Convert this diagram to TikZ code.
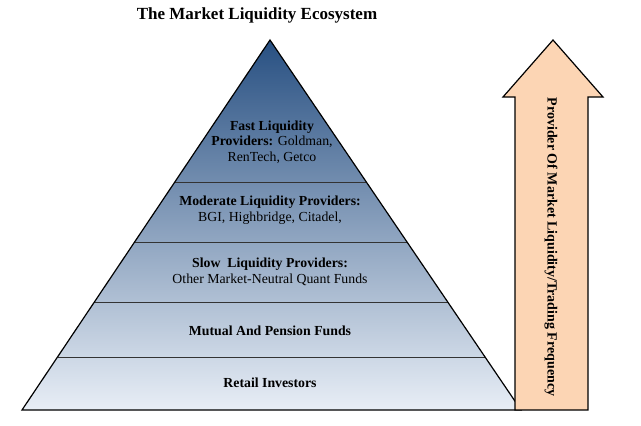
\documentclass[tikz,border=0pt]{standalone}
\usepackage{fontspec}
\setmainfont{Liberation Serif}
\begin{document}
\begin{tikzpicture}[x=1pt,y=-1pt,
  lbl/.style={font=\fontsize{13.8}{15.5}\selectfont, align=center, text=black}]
\useasboundingbox[fill=white] (0,0) rectangle (641,426);
\coordinate (apex) at (270,40);
\coordinate (bl) at (22,410);
\coordinate (br) at (521,410);
\shade[top color={rgb,255:red,40;green,80;blue,130}, middle color={rgb,255:red,100;green,150;blue,205}, bottom color={rgb,255:red,232;green,238;blue,246}] (apex) -- (br) -- (bl) -- cycle;
\foreach \y in {182,242,302,357}{
  \pgfmathsetmacro{\dx}{(\y-40)/370}
  \draw[line width=0.8pt, black!80] ({270-248*\dx},\y) -- ({270+251*\dx},\y);
}
\draw[line width=1.2pt] (apex) -- (br) -- (bl) -- cycle;
\node[lbl, font=\fontsize{17}{19}\selectfont] (t) at (257,15) {\textbf{The Market Liquidity Ecosystem}};
\node[lbl] (n1) at (272,142) {\textbf{Fast Liquidity}\\\textbf{Providers:} Goldman,\\RenTech, Getco};
\node[lbl] (n2) at (270,210) {\textbf{Moderate Liquidity Providers:}\\BGI, Highbridge, Citadel,};
\node[lbl] (n3) at (270,272) {\textbf{Slow\ \ Liquidity Providers:}\\Other Market-Neutral Quant Funds};
\node[lbl] (n4) at (270,331) {\textbf{Mutual And Pension Funds}};
\node[lbl] (n5) at (270,383) {\textbf{Retail Investors}};
\draw[line width=1.2pt, fill={rgb,255:red,252;green,213;blue,180}]
  (515,410) -- (515,97) -- (503,97) -- (553,40) -- (603,97) -- (588,97) -- (588,410) -- cycle;
\node[lbl, font=\fontsize{14}{16}\selectfont, rotate=-90] (ar) at (551,247) {\textbf{Provider Of Market Liquidity/Trading Frequency}};
\end{tikzpicture}
\end{document}
